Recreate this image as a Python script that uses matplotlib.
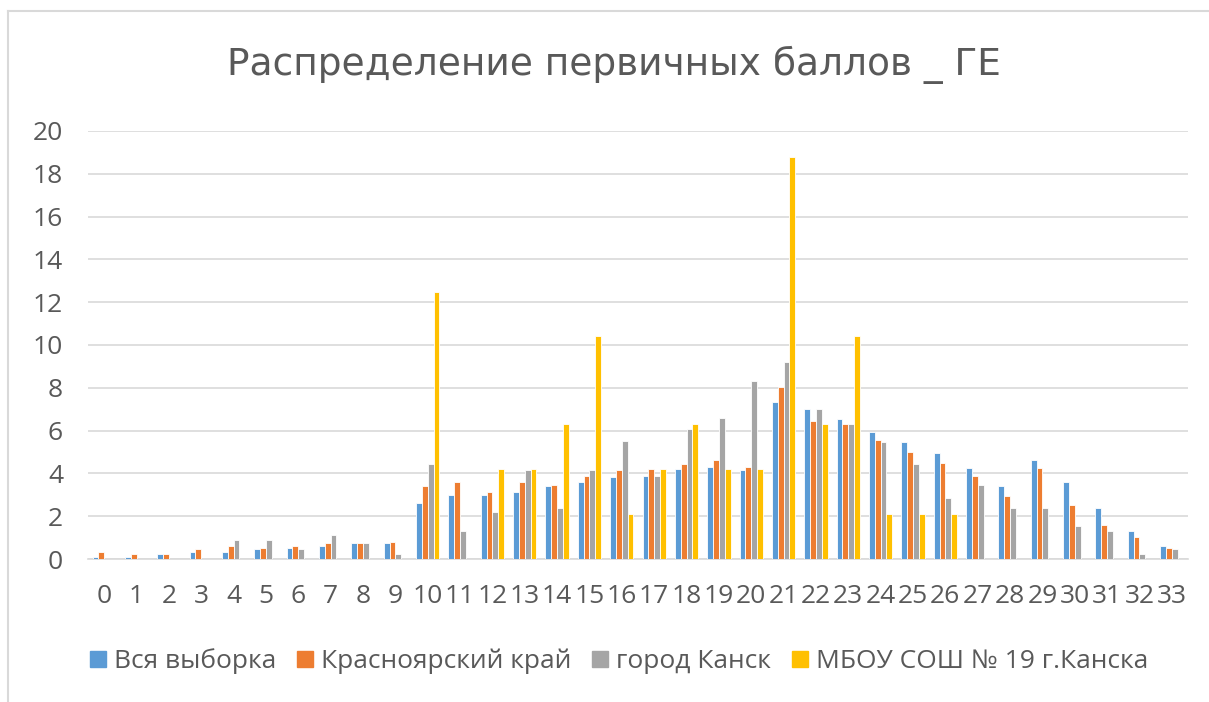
import matplotlib.pyplot as plt
import numpy as np
from matplotlib.lines import Line2D

# баллы 0..33
scores = [str(i) for i in range(34)]

vsya = [0.1, 0.1, 0.23, 0.31, 0.31, 0.45, 0.53, 0.6, 0.73, 0.73,
        2.61, 2.97, 2.97, 3.11, 3.41, 3.62, 3.84, 3.9, 4.2, 4.28,
        4.14, 7.32, 7.02, 6.52, 5.93, 5.49, 4.93, 4.26, 3.4, 4.62,
        3.61, 2.39, 1.32, 0.59]
kray = [0.31, 0.23, 0.23, 0.45, 0.6, 0.53, 0.6, 0.73, 0.73, 0.8,
        3.41, 3.62, 3.11, 3.62, 3.48, 3.9, 4.14, 4.2, 4.42, 4.64,
        4.28, 8.02, 6.44, 6.3, 5.57, 5.0, 4.5, 3.9, 2.96, 4.26,
        2.54, 1.6, 1.02, 0.53]
kansk = [0, 0, 0, 0, 0.88, 0.88, 0.45, 1.1, 0.73, 0.23,
         4.42, 1.31, 2.18, 4.14, 2.4, 4.14, 5.5, 3.9, 6.07, 6.58,
         8.33, 9.2, 7.02, 6.3, 5.49, 4.43, 2.83, 3.47, 2.39, 2.39,
         1.53, 1.32, 0.23, 0.45]
school = [0, 0, 0, 0, 0, 0, 0, 0, 0, 0,
          12.49, 0, 4.2, 4.2, 6.3, 10.4, 2.1, 4.2, 6.3, 4.2,
          4.2, 18.8, 6.3, 10.41, 2.1, 2.1, 2.1, 0, 0, 0,
          0, 0, 0, 0]

series = [vsya, kray, kansk, school]
names = ['Вся выборка', 'Красноярский край', 'город Канск', 'МБОУ СОШ № 19 г.Канска']
colors = ['#5B9BD5', '#ED7D31', '#A5A5A5', '#FFC000']

plt.rcParams['font.family'] = ['Open Sans', 'DejaVu Sans']
txt = '#595959'

fig = plt.figure(figsize=(12.09, 7.02), dpi=100)
ax = fig.add_axes([0.0728, 0.2037, 0.9098, 0.6097])

x = np.arange(len(scores))
w = 0.18
for i, (vals, nm, c) in enumerate(zip(series, names, colors)):
    ax.bar(x + (i - 1.5) * w, vals, w, color=c, edgecolor='white', linewidth=0.6, label=nm, zorder=3)

ax.set_xlim(-0.5, 33.5)
ax.set_ylim(0, 20)
ax.set_yticks(range(0, 21, 2))
ax.set_xticks(x)
ax.set_xticklabels(scores)
ax.grid(axis='y', color='#d9d9d9', linewidth=1.2, zorder=0)
for s in ['top', 'right', 'left']:
    ax.spines[s].set_visible(False)
ax.spines['bottom'].set_color('#d9d9d9')
ax.spines['bottom'].set_linewidth(1.2)
ax.tick_params(axis='both', length=0, labelsize=19, colors=txt)
ax.tick_params(axis='y', pad=18)
ax.tick_params(axis='x', pad=18)

fig.suptitle('Распределение первичных баллов _ ГЕ', x=0.508, y=0.935, fontsize=27,
             color=txt, family=['DejaVu Sans'])

handles = [plt.Rectangle((0, 0), 1, 1, color=c) for c in colors]
fig.legend(handles, names, loc='center', bbox_to_anchor=(0.512, 0.058), ncol=4, frameon=False,
           fontsize=19, labelcolor=txt, handlelength=0.6, handleheight=0.6, handletextpad=0.3,
           columnspacing=0.8)

# рамка области диаграммы
fig.add_artist(Line2D([8 / 1209, 8 / 1209], [0, 1 - 11 / 702], transform=fig.transFigure, color='#d9d9d9', lw=1.5))
fig.add_artist(Line2D([8 / 1209, 1], [1 - 11 / 702, 1 - 11 / 702], transform=fig.transFigure, color='#d9d9d9', lw=1.5))

fig.savefig('out.png', dpi=100)
